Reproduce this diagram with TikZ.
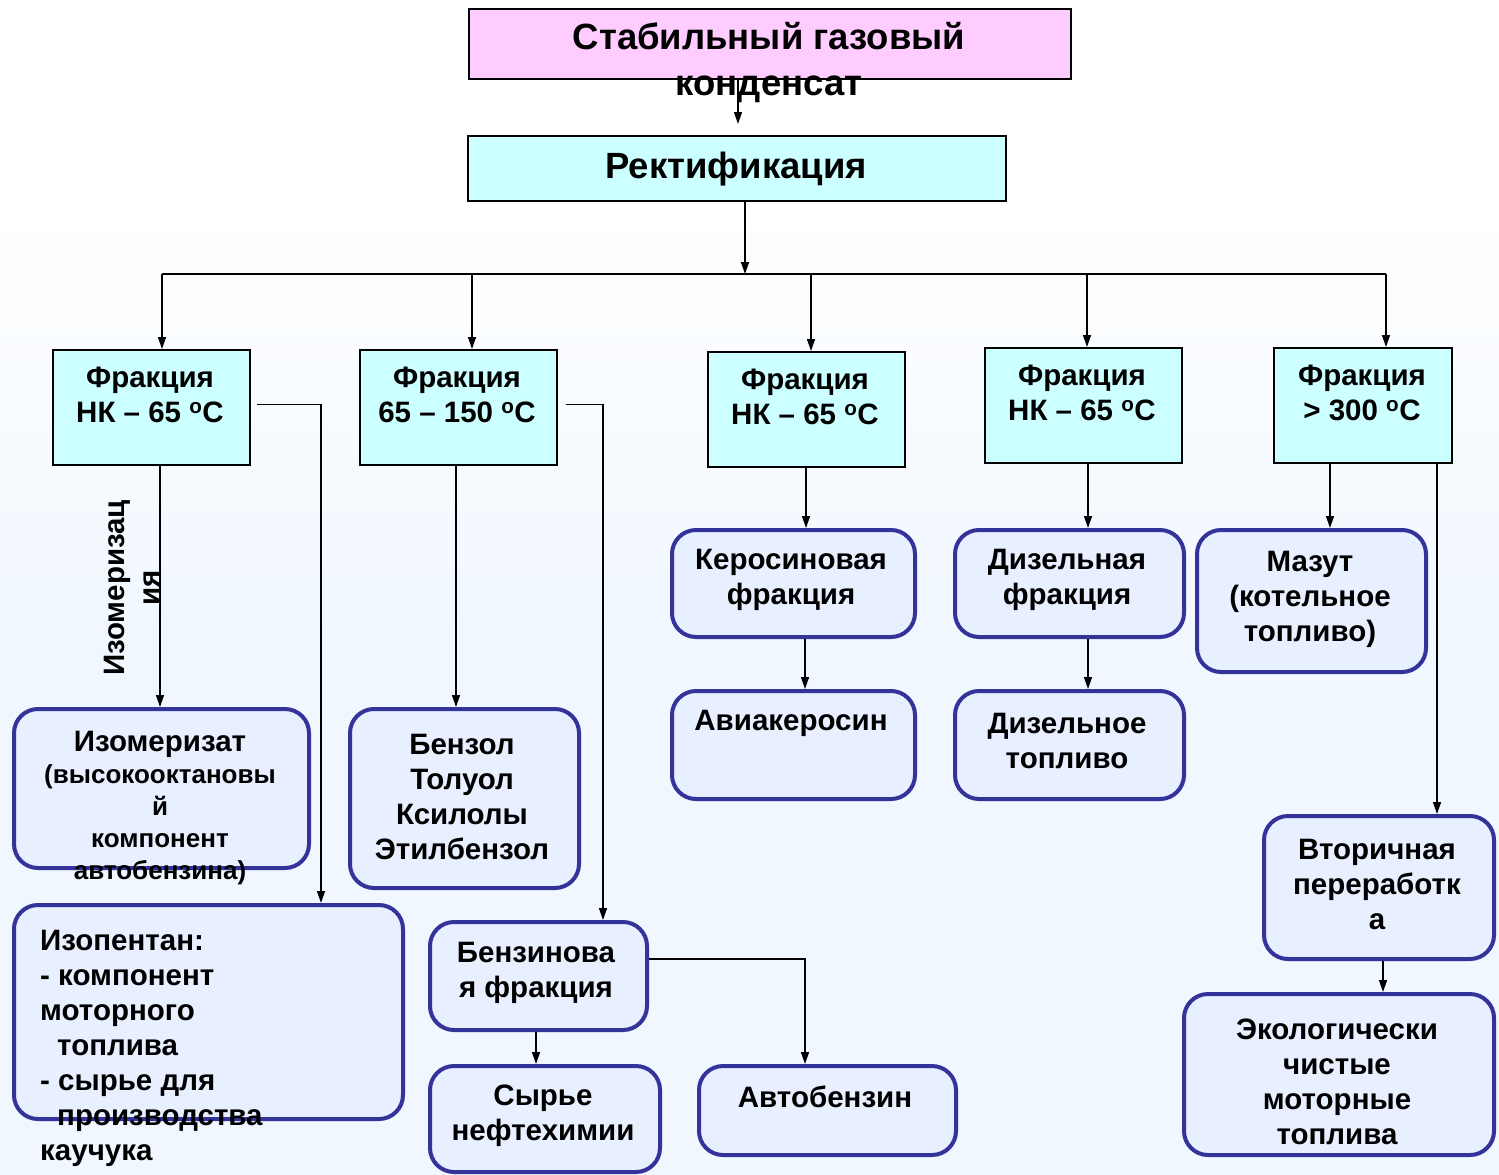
\documentclass[tikz,border=0pt]{standalone}
\usepackage{fontspec}
\setmainfont{Liberation Sans}
\usepackage{tikz}
\usetikzlibrary{arrows.meta}

\definecolor{cyanbox}{RGB}{204,255,255}
\definecolor{pinkbox}{RGB}{255,204,255}
\definecolor{navyline}{RGB}{51,51,153}
\definecolor{palebox}{RGB}{232,239,255}
\definecolor{bgblue}{RGB}{240,247,255}

\begin{document}
\begin{tikzpicture}[x=1pt,y=-1pt,
		txt/.style={font=\bfseries\fontsize{29.5}{35}\selectfont, align=center, inner sep=0pt},
		bigtxt/.style={font=\bfseries\fontsize{36.5}{46}\selectfont, align=center, inner sep=0pt},
		flatbox/.style={draw=black, line width=1.5pt, inner sep=0pt, anchor=north west},
		roundbox/.style={draw=navyline, line width=4pt, fill=palebox, rounded corners=24pt, inner sep=0pt, anchor=north west},
		arr/.style={-{Triangle[length=12pt,width=8pt]}, line width=1.4pt}]
	% Background
	\fill[white] (0,0) rectangle (1499,200);
	\shade[top color=white, bottom color=bgblue] (0,200) rectangle (1499,650);
	\fill[bgblue] (0,650) rectangle (1499,1175);
	\useasboundingbox (0,0) rectangle (1499,1175);
	
	% Define the head boxes
	\node[flatbox, fill=pinkbox, minimum width=602pt, minimum height=70pt] (Top) at (468,8) {};
	\node[flatbox, fill=cyanbox, minimum width=538pt, minimum height=65pt] (Rect) at (467,135) {};
	
	% Define the fraction boxes
	\node[flatbox, fill=cyanbox, minimum width=197pt, minimum height=115pt] (F1) at (52,349) {};
	\node[flatbox, fill=cyanbox, minimum width=197pt, minimum height=115pt] (F2) at (359,349) {};
	\node[flatbox, fill=cyanbox, minimum width=197pt, minimum height=115pt] (F3) at (707,351) {};
	\node[flatbox, fill=cyanbox, minimum width=197pt, minimum height=115pt] (F4) at (984,347) {};
	\node[flatbox, fill=cyanbox, minimum width=178pt, minimum height=115pt] (F5) at (1273,347) {};
	
	% Define the product boxes
	\node[roundbox, minimum width=295pt, minimum height=159pt] (Isom) at (12,707) {};
	\node[roundbox, minimum width=229pt, minimum height=179pt] (Benz) at (348,707) {};
	\node[roundbox, minimum width=389pt, minimum height=214pt] (Ipent) at (12,903) {};
	\node[roundbox, minimum width=217pt, minimum height=108pt] (BenzF) at (428,920) {};
	\node[roundbox, minimum width=230pt, minimum height=106pt] (Syr) at (428,1064) {};
	\node[roundbox, minimum width=257pt, minimum height=89pt] (Avto) at (697,1064) {};
	\node[roundbox, minimum width=243pt, minimum height=107pt] (Ker) at (670,528) {};
	\node[roundbox, minimum width=243pt, minimum height=108pt] (Avia) at (670,689) {};
	\node[roundbox, minimum width=229pt, minimum height=107pt] (DizF) at (953,528) {};
	\node[roundbox, minimum width=229pt, minimum height=108pt] (DizT) at (953,689) {};
	\node[roundbox, minimum width=229pt, minimum height=142pt] (Mazut) at (1195,528) {};
	\node[roundbox, minimum width=230pt, minimum height=143pt] (Vtor) at (1262,814) {};
	\node[roundbox, minimum width=310pt, minimum height=161pt] (Eko) at (1182,992) {};
	
	% Texts
	\node[bigtxt] (TopT) at (769,63) {Стабильный газовый\\конденсат};
	\node[bigtxt] (RectT) at (736,169) {Ректификация};
	\node[txt] (F1T) at (150,395) {Фракция\\НК – 65 \textsuperscript{o}C};
	\node[txt] (F2T) at (457,395) {Фракция\\65 – 150 \textsuperscript{o}C};
	\node[txt] (F3T) at (805,397) {Фракция\\НК – 65 \textsuperscript{o}C};
	\node[txt] (F4T) at (1082,393) {Фракция\\НК – 65 \textsuperscript{o}C};
	\node[txt] (F5T) at (1362,393) {Фракция\\> 300 \textsuperscript{o}C};
	\node[txt, font=\bfseries\fontsize{26}{32}\selectfont] (IsomT) at (160,808) {{\fontsize{29.5}{34}\selectfont Изомеризат}\\(высокооктановы\\й\\компонент\\автобензина)};
	\node[txt] (BenzT) at (462,797) {Бензол\\Толуол\\Ксилолы\\Этилбензол};
	\node[txt, align=left, anchor=west] (IpentT) at (40,1048) {Изопентан:\\- компонент\\моторного\\\hspace*{17pt}топлива\\- сырье для\\\hspace*{17pt}производства\\каучука};
	\node[txt] (BenzFT) at (536,973) {Бензинова\\я фракция};
	\node[txt] (SyrT) at (543,1116) {Сырье\\нефтехимии};
	\node[txt] (AvtoT) at (825,1097) {Автобензин};
	\node[txt] (KerT) at (791,580) {Керосиновая\\фракция};
	\node[txt] (AviaT) at (791,723) {Авиакеросин};
	\node[txt] (DizFT) at (1067,580) {Дизельная\\фракция};
	\node[txt] (DizTT) at (1067,741) {Дизельное\\топливо};
	\node[txt] (MazutT) at (1310,599) {Мазут\\(котельное\\топливо)};
	\node[txt] (VtorT) at (1377,884) {Вторичная\\переработк\\а};
	\node[txt] (EkoT) at (1337,1082) {Экологически\\чистые\\моторные\\топлива};
	\node[txt, rotate=90] (IsoLab) at (132,588) {Изомеризац\\ия};
	
	% Draw the main stream
	\coordinate (busL) at (162,274);
	\coordinate (busR) at (1386,274);
	\draw[arr, shorten >=11pt] (738,0 |- Top.south) -- (738,0 |- Rect.north);
	\draw[arr] (745,0 |- Rect.south) -- (745,0 |- busL);
	\draw[line width=1.4pt] (busL) -- (busR);
	\foreach \x/\n in {162/F1, 472/F2, 811/F3, 1087/F4, 1386/F5}
		\draw[arr] (\x,274) -- (\x,0 |- \n.north);
	
	% Draw the branches
	\draw[arr] (160,0 |- F1.south) -- (160,0 |- Isom.north);
	\draw[arr] ([xshift=6pt,yshift=3pt]F1.east) -| (321,0 |- Ipent.north);
	\draw[arr] (456,0 |- F2.south) -- (456,0 |- Benz.north);
	\draw[arr] ([xshift=8pt,yshift=3pt]F2.east) -| (603,0 |- BenzF.north);
	\draw[arr] (536,0 |- BenzF.south) -- (536,0 |- Syr.north);
	\draw[arr] ([yshift=17pt]BenzF.east) -| (805,0 |- Avto.north);
	\draw[arr] (806,0 |- F3.south) -- (806,0 |- Ker.north);
	\draw[arr] (805,0 |- Ker.south) -- (805,0 |- Avia.north);
	\draw[arr] (1088,0 |- F4.south) -- (1088,0 |- DizF.north);
	\draw[arr] (1088,0 |- DizF.south) -- (1088,0 |- DizT.north);
	\draw[arr] (1330,0 |- F5.south) -- (1330,0 |- Mazut.north);
	\draw[arr] (1437,0 |- F5.south) -- (1437,0 |- Vtor.north);
	\draw[arr] (1383,0 |- Vtor.south) -- (1383,0 |- Eko.north);
\end{tikzpicture}
\end{document}
